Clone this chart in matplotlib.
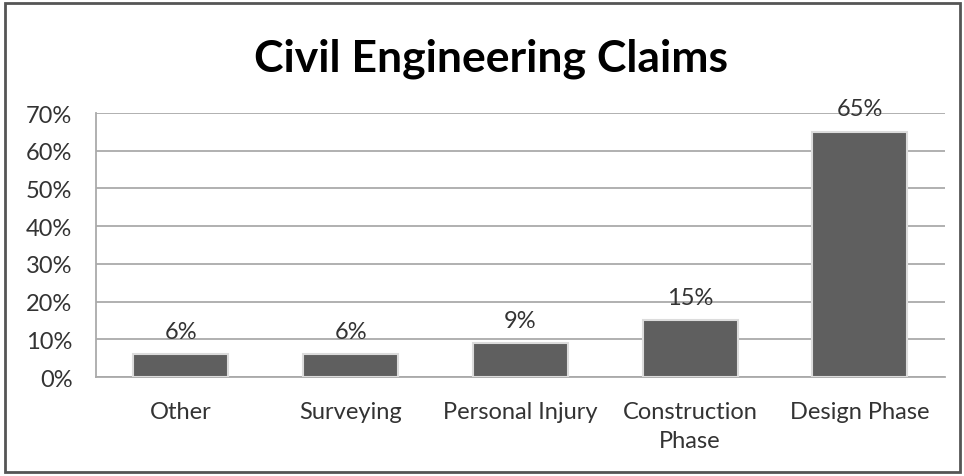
import matplotlib
matplotlib.use("Agg")
import matplotlib.pyplot as plt
from matplotlib.patches import Rectangle
from matplotlib.ticker import PercentFormatter

categories = ["Other", "Surveying", "Personal Injury", "Construction\nPhase", "Design Phase"]
shares = [6, 6, 9, 15, 65]
yticks = [0, 10, 20, 30, 40, 50, 60, 70]

plt.rcParams["font.family"] = ["Lato", "DejaVu Sans"]

fig = plt.figure(figsize=(9.64, 4.77), dpi=100)
ax = fig.add_axes([0.0996, 0.2075, 0.8804, 0.5535])

x = range(len(categories))
bars = ax.bar(x, shares, width=0.56, color="#5f5f5f", edgecolor="#dcdcdc", linewidth=1.5, zorder=3)
for b, v in zip(bars, shares):
    ax.annotate(f"{v}%", (b.get_x() + b.get_width() / 2, v), xytext=(0, 9), textcoords="offset points",
                ha="center", va="bottom", fontsize=17, color="#333333")

ax.set_xlim(-0.5, len(categories) - 0.5)
ax.set_ylim(0, 70)
ax.set_yticks(yticks)
ax.yaxis.set_major_formatter(PercentFormatter(decimals=0))
ax.set_xticks(list(x))
ax.set_xticklabels(categories, fontsize=17, color="#333333", linespacing=1.5, va="top")
ax.tick_params(axis="y", length=0, pad=17, labelsize=17, labelcolor="#333333")
ax.tick_params(axis="x", length=0, pad=17)
ax.grid(axis="y", color="#aaaaaa", linewidth=1.3, zorder=0)
for s in ["top", "right"]:
    ax.spines[s].set_visible(False)
for s in ["left", "bottom"]:
    ax.spines[s].set_color("#aaaaaa")
    ax.spines[s].set_linewidth(1.3)

fig.text(0.509, 0.877, "Civil Engineering Claims", ha="center", va="center", fontsize=32,
         fontweight="bold", color="black")
fig.patches.append(Rectangle((5 / 964, 4 / 477), 955 / 964, 469 / 477, transform=fig.transFigure,
                             fill=False, edgecolor="#555555", linewidth=2))

fig.savefig("out.png", dpi=100)
plt.close(fig)
